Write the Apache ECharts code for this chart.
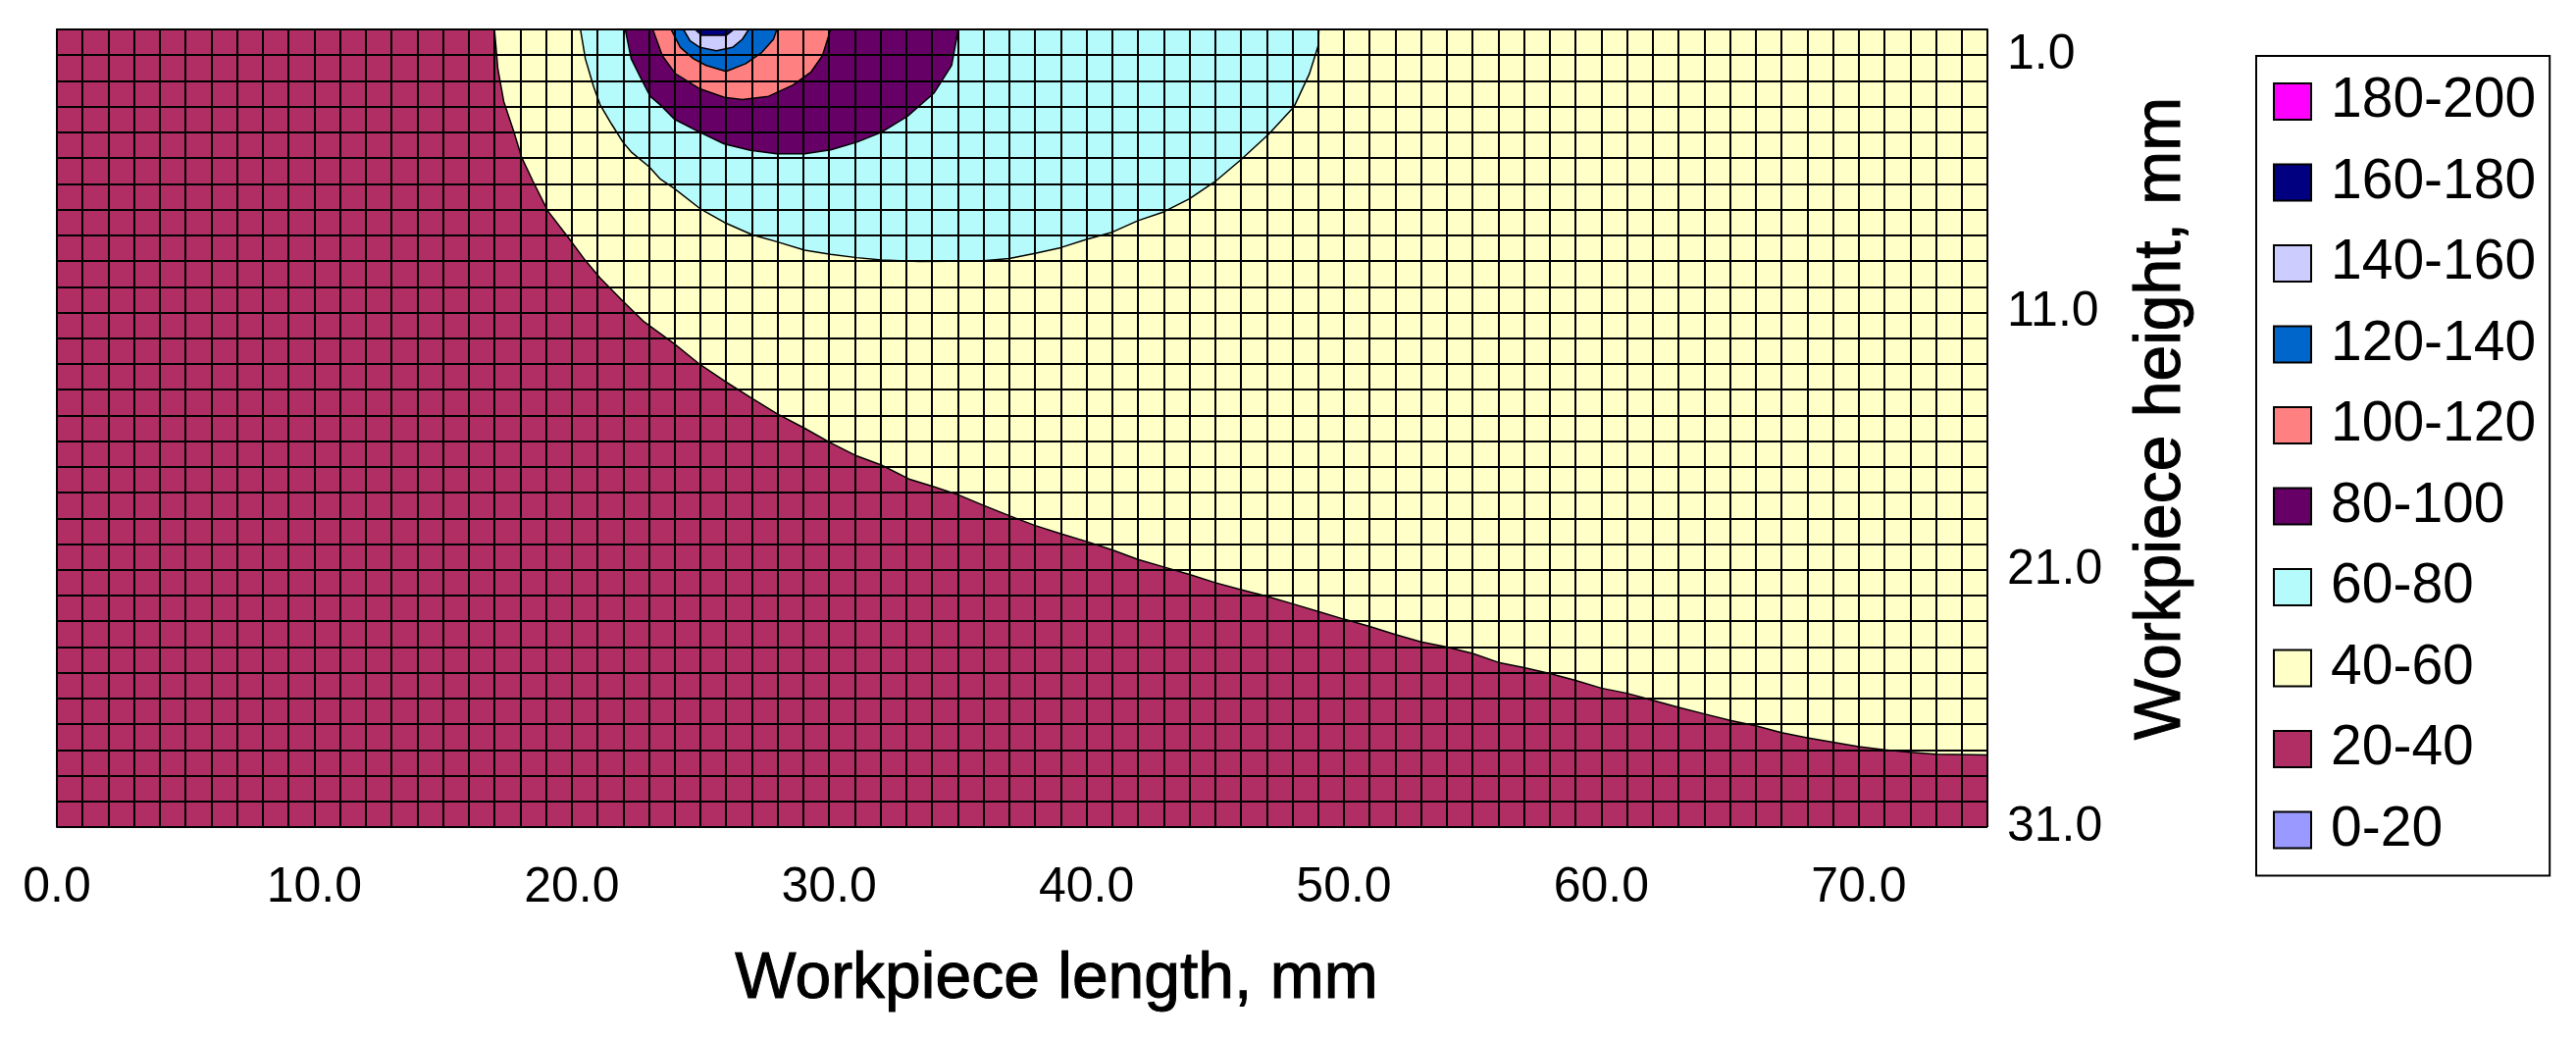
<!DOCTYPE html>
<html>
<head>
<meta charset="utf-8">
<style>html,body{margin:0;padding:0;background:#fff}#c{width:2626px;height:1059px}</style>
<script src="https://cdn.jsdelivr.net/npm/echarts@6/dist/echarts.min.js"></script>
</head>
<body>
<div id="c"></div>
<script>
// Legend classes, top to bottom
const legendLabels = ['180-200','160-180','140-160','120-140','100-120','80-100','60-80','40-60','20-40','0-20'];
const bandColors = {
  '180-200':'#FF00FF','160-180':'#000080','140-160':'#CCCCFF','120-140':'#0066CC','100-120':'#FF8080',
  '80-100':'#660066','60-80':'#B6FBFB','40-60':'#FFFFC8','20-40':'#B02E64','0-20':'#9999FF'
};
// Tick values
const xMajorTicks = [0,5,10,15,20,25,30,35,40,45,50,55,60,65,70,75];
const xTickLabels = [0,10,20,30,40,50,60,70];
const yMajorTicks = [1,6,11,16,21,26,31];
const yTickLabels = [1,11,21,31];

// Lower edge (length mm, height mm) of each temperature band
const edge20to40 = [[0,31],[75,31]];
const edge40to60 = [[17,0],[17.13,1.52],[17.36,2.8],[17.74,3.94],[18.05,4.96],[18.5,5.91],[19.07,7.05],[19.9,8.13],[20.47,8.9],[21.1,9.66],[21.98,10.55],[22.82,11.37],[23.96,12.2],[24.98,13.02],[25.93,13.66],[26.95,14.3],[27.97,14.93],[29.05,15.5],[30.06,16.07],[31.08,16.58],[32.03,16.93],[33.1,17.47],[34,17.75],[35,18.08],[36,18.5],[37,18.9],[38,19.28],[39,19.6],[40,19.9],[41,20.23],[42,20.6],[43,20.89],[44,21.18],[45,21.5],[46,21.77],[47,22.03],[48,22.32],[49,22.62],[50,22.92],[51,23.2],[52,23.52],[53,23.8],[54,24],[55,24.25],[56,24.6],[57,24.8],[58,25.03],[59,25.3],[60,25.6],[61,25.8],[62,26.07],[63,26.35],[64,26.6],[65,26.85],[66,27.06],[67,27.33],[68,27.53],[69,27.7],[70,27.87],[71,28],[72,28.09],[73,28.17],[75,28.2]];
const edge60to80 = [[20.34,0],[20.53,1.14],[20.85,2.22],[21.1,2.92],[21.55,3.68],[21.99,4.38],[22.31,4.76],[23.01,5.34],[23.45,5.82],[23.96,6.16],[24.98,6.96],[25.93,7.5],[27.01,7.98],[28,8.26],[29.05,8.58],[30.06,8.74],[31.08,8.87],[32.03,8.96],[33.5,9.02],[35.9,9],[37,8.9],[38,8.7],[39,8.48],[40,8.16],[41,7.88],[42,7.43],[43,7.09],[44,6.58],[45,5.91],[46,5.06],[47.08,4.07],[48.07,2.99],[48.66,1.72],[49,0.64],[49.03,0]];
const edge80to100 = [[22.08,0],[22.31,1.14],[22.69,1.9],[23.05,2.6],[23.46,2.95],[23.99,3.49],[24.98,4],[25.93,4.45],[26.95,4.7],[27.97,4.83],[29.05,4.83],[30.06,4.68],[31.08,4.38],[32.03,4],[33.05,3.37],[34.07,2.48],[34.76,1.4],[35.02,0]];
const edge100to120 = [[23.15,0],[23.52,1.02],[24.03,1.72],[24.98,2.31],[25.93,2.64],[26.63,2.73],[27.65,2.6],[28.6,2.16],[29.3,1.65],[29.74,1.02],[30.06,0]];
const edge120to140 = [[23.86,0],[24.22,0.7],[24.73,1.14],[25.23,1.4],[26,1.63],[26.76,1.33],[27.39,0.89],[27.84,0.38],[27.97,0]];
const edge140to160 = [[24.34,0],[24.6,0.44],[24.98,0.7],[25.62,0.83],[26.25,0.7],[26.63,0.38],[26.88,0]];
const edge160to180 = [[24.79,0],[25.05,0.23],[26,0.23],[26.3,0]];
const edge180to200 = [];
const edge0to20 = [];

const xTitle = 'Workpiece length, mm';
const yTitle = 'Workpiece height, mm';

const FONT = '"Liberation Sans", Arial, sans-serif';
const bands = [
  ['0-20',edge0to20],['20-40',edge20to40],['40-60',edge40to60],['60-80',edge60to80],['80-100',edge80to100],
  ['100-120',edge100to120],['120-140',edge120to140],['140-160',edge140to160],['160-180',edge160to180],['180-200',edge180to200]
];
const series = bands.map(([name,data]) => ({
  name, type:'line', data, symbol:'none', showSymbol:false, animation:false, silent:true,
  xAxisIndex:0, yAxisIndex:0,
  itemStyle:{color:bandColors[name]},
  lineStyle: name==='20-40' ? {width:0,color:bandColors[name]} : {width:1.5,color:'#000'},
  areaStyle:{color:bandColors[name],opacity:1,origin:'start'}
}));

const gridAxisX = {
  type:'value', min:0, max:75, interval:1, z:5, position:'top',
  axisLine:{show:false}, axisTick:{show:false}, axisLabel:{show:false},
  splitLine:{show:true,lineStyle:{color:'#000',width:2}}
};
const gridAxisY = {
  type:'value', min:0, max:31, interval:1, inverse:true, position:'left', z:5,
  axisLine:{show:false}, axisTick:{show:false}, axisLabel:{show:false},
  splitLine:{show:true,lineStyle:{color:'#000',width:2}}
};

const chart = echarts.init(document.getElementById('c'),null,{renderer:'canvas'});
chart.setOption({
  backgroundColor:'#fff',
  animation:false,
  grid:{left:58,right:600,top:30,height:813,containLabel:false},
  legend:{
    orient:'vertical', left:2300, top:57, data:legendLabels, icon:'rect',
    itemWidth:38, itemHeight:37, itemGap:25.5, padding:[18,14,18,17],
    borderColor:'#000', borderWidth:2, backgroundColor:'#fff',
    selectedMode:false,
    itemStyle:{borderColor:'#000',borderWidth:2},
    textStyle:{fontFamily:FONT,fontSize:57,lineHeight:57,color:'#000',padding:[0,0,0,15]}
  },
  xAxis:[{
    type:'value', min:0, max:75, interval:1, z:6, position:'bottom',
    name:xTitle, nameLocation:'middle', nameGap:123,
    nameTextStyle:{fontFamily:FONT,fontSize:66,color:'#000',padding:[0,0,0,70],textBorderColor:'#000',textBorderWidth:1},
    axisLine:{show:true,lineStyle:{color:'#000',width:2}},
    axisTick:{show:true,length:14,customValues:xMajorTicks,lineStyle:{color:'#000',width:2}},
    axisLabel:{show:true,margin:37,customValues:xTickLabels,hideOverlap:false,fontFamily:FONT,fontSize:50,color:'#000',formatter:v=>Number(v).toFixed(1)},
    splitLine:{show:false}
  },gridAxisX],
  yAxis:[{
    type:'value', min:0, max:31, interval:1, inverse:true, position:'right', z:6,
    name:yTitle, nameLocation:'middle', nameGap:145, nameRotate:90,
    nameTextStyle:{fontFamily:FONT,fontSize:66,color:'#000',padding:[0,0,0,20],textBorderColor:'#000',textBorderWidth:1},
    axisLine:{show:true,lineStyle:{color:'#000',width:2}},
    axisTick:{show:true,length:14,customValues:yMajorTicks,lineStyle:{color:'#000',width:2}},
    axisLabel:{show:true,margin:20,customValues:yTickLabels,hideOverlap:false,fontFamily:FONT,fontSize:50,color:'#000',formatter:v=>Number(v).toFixed(1)},
    splitLine:{show:false}
  },gridAxisY],
  series
});
</script>
</body>
</html>
